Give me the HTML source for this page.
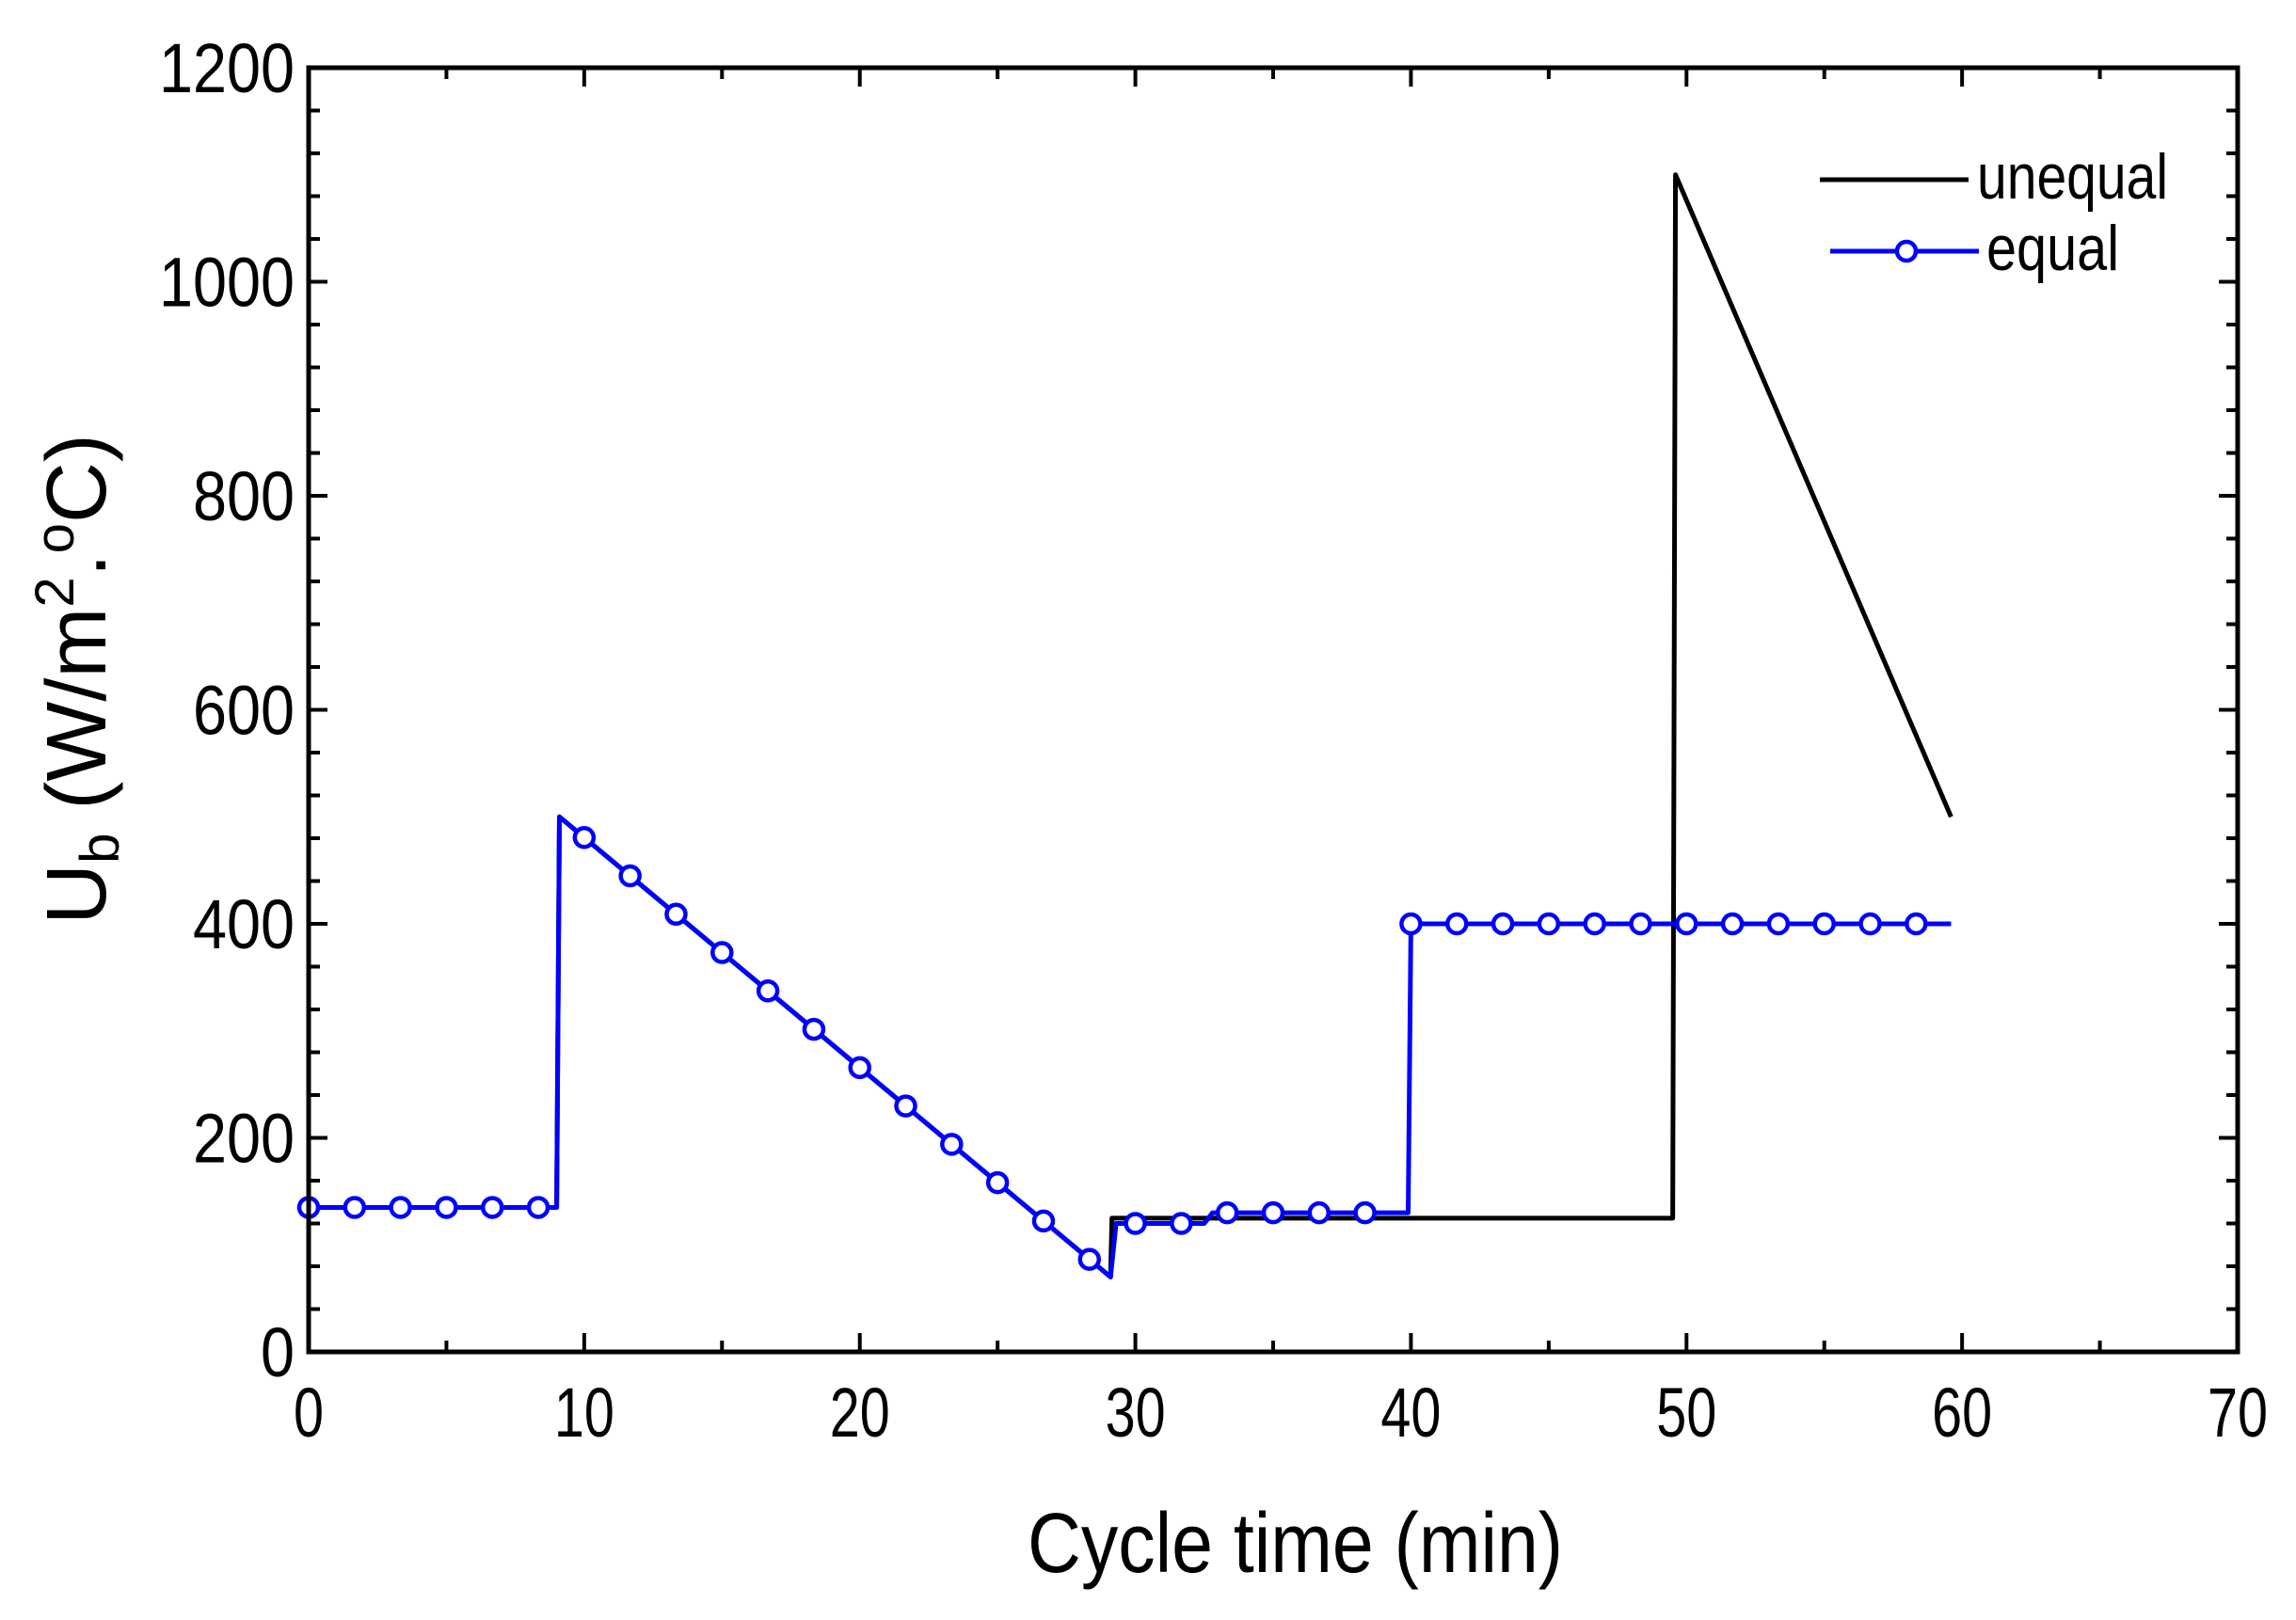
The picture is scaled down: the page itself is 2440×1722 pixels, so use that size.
<!DOCTYPE html>
<html><head><meta charset="utf-8"><style>
html,body{margin:0;padding:0;background:#fff;}
svg{display:block;font-family:"Liberation Sans",Arial,sans-serif;}
</style></head><body>
<svg id="s" width="2440" height="1722" viewBox="0 0 2440 1722" xmlns="http://www.w3.org/2000/svg"></svg>
<script>
const s=document.getElementById('s');
const L=328,R=2378,T=72,B=1437;
const X=x=>L+(R-L)*x/70, Y=v=>B-(B-T)*v/1200;
let h='';
const bk=[[0,135],[9,135],[9.1,500],[29.1,70],[29.15,125],[49.5,125],[49.6,1100],[59.6,500]];
h+=`<polyline fill="none" stroke="#000" stroke-width="5" stroke-linejoin="round" points="${bk.map(p=>X(p[0])+','+Y(p[1])).join(' ')}"/>`;
const bl=[[0,135],[9,135],[9.1,500],[29.1,70],[29.3,120],[32.5,120],[32.8,130],[39.9,130],[40,400],[59.6,400]];
h+=`<polyline fill="none" stroke="#0000ff" stroke-width="5" stroke-linejoin="round" points="${bl.map(p=>X(p[0])+','+Y(p[1])).join(' ')}"/>`;
function bv(x){if(x<9.05)return 135;if(x<29.1)return 500-21.5*(x-9.1);if(x<32.6)return 120;if(x<39.95)return 130;return 400;}
for(let i=0;i<36;i++){const x=i*5/3;h+=`<circle cx="${X(x)}" cy="${Y(bv(x))}" r="10" fill="#fff" stroke="#0000ff" stroke-width="4.5"/>`;}
h+=`<rect x="${L}" y="${T}" width="${R-L}" height="${B-T}" fill="none" stroke="#000" stroke-width="5"/>`;
for(let x=0;x<=70;x+=5){const maj=x%10==0,len=maj?20:12,px=X(x);
h+=`<line x1="${px}" y1="${B}" x2="${px}" y2="${B-len}" stroke="#000" stroke-width="4"/><line x1="${px}" y1="${T}" x2="${px}" y2="${T+len}" stroke="#000" stroke-width="4"/>`;
if(maj){const t=String(x);h+=`<text x="${px}" y="1527" font-size="74" text-anchor="middle" textLength="${t.length*32}" lengthAdjust="spacingAndGlyphs">${t}</text>`;}}
for(let v=0;v<=1200;v+=40){const maj=v%200==0,len=maj?20:12,py=Y(v);
h+=`<line x1="${L}" y1="${py}" x2="${L+len}" y2="${py}" stroke="#000" stroke-width="4"/><line x1="${R}" y1="${py}" x2="${R-len}" y2="${py}" stroke="#000" stroke-width="4"/>`;
if(maj){const t=String(v);h+=`<text x="${313-t.length*36}" y="${py+26}" font-size="74" textLength="${t.length*36}" lengthAdjust="spacingAndGlyphs">${t}</text>`;}}
h+=`<text x="1092" y="1671" font-size="90" textLength="569" lengthAdjust="spacingAndGlyphs">Cycle time (min)</text>`;
h+=`<text transform="translate(112,722) rotate(-90)" font-size="90" text-anchor="middle">U<tspan font-size="58" dy="14">b</tspan><tspan dy="-14"> (W/m</tspan><tspan font-size="58" dy="-34">2</tspan><tspan dy="34">.</tspan><tspan font-size="58" dy="-34">o</tspan><tspan dy="34">C)</tspan></text>`;
h+=`<line x1="1934" y1="191" x2="2092" y2="191" stroke="#000" stroke-width="5"/><text x="2101" y="211" font-size="68" textLength="203" lengthAdjust="spacingAndGlyphs">unequal</text>`;
h+=`<line x1="1945" y1="267" x2="2103" y2="267" stroke="#0000ff" stroke-width="5"/><circle cx="2026" cy="267" r="10" fill="#fff" stroke="#0000ff" stroke-width="4.5"/><text x="2111" y="287" font-size="68" textLength="141" lengthAdjust="spacingAndGlyphs">equal</text>`;
s.innerHTML=h;
</script>
</body></html>
